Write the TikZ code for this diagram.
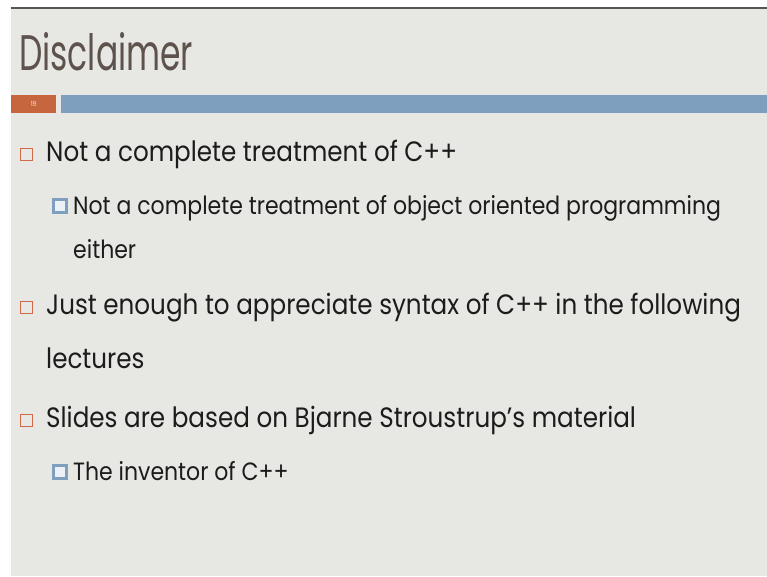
\documentclass[tikz,border=0pt]{standalone}
\usepackage{fontspec}
\setmainfont[FakeStretch=0.88]{Poppins}
\newfontfamily\titlefont[FakeStretch=0.66]{Poppins}
\usepackage{tikz}
\usetikzlibrary{positioning, calc}
\definecolor{slidebg}{HTML}{E7E8E4}
\definecolor{topline}{HTML}{555555}
\definecolor{titlegray}{HTML}{5E524D}
\definecolor{pagebox}{HTML}{C5663F}
\definecolor{barblue}{HTML}{7F9FBF}
\definecolor{bulletred}{HTML}{D0684A}
\definecolor{bodyblack}{HTML}{1C1C1C}
\tikzset{
  % first level bullet: empty square
  bulletone/.style={
    rectangle, draw=bulletred, line width=0.8pt, fill=slidebg,
    minimum size=12pt, inner sep=0pt, anchor=south west,
  },
  % second level bullet: blue square with light centre
  bullettwo/.style={
    rectangle, draw=barblue, line width=3pt, fill=white!85!barblue,
    minimum size=13pt, inner sep=0pt, anchor=south west,
  },
  % body text, first level
  bodytext/.style={
    font=\fontsize{28}{32}\selectfont, text=bodyblack,
    inner sep=0pt, anchor=base west,
  },
  % body text, second level
  subtext/.style={
    font=\fontsize{25}{29}\selectfont, text=bodyblack,
    inner sep=0pt, anchor=base west,
  },
  % slide title
  slidetitle/.style={
    font=\titlefont\fontsize{50}{60}\selectfont, text=titlegray,
    inner sep=0pt, anchor=base west,
  },
}
\begin{document}
\begin{tikzpicture}[x=1pt, y=-1pt]
  \useasboundingbox (0,0) rectangle (767,576);

  % slide background
  \fill[white] (0,0) rectangle (767,576);
  \fill[slidebg] (11,9) rectangle (767,576);
  \draw[topline, line width=2pt] (11,8) -- (767,8);

  % title and header bar
  \node[slidetitle] (title) at (19,70) {Disclaimer};
  \node[rectangle, fill=pagebox, minimum width=45pt, minimum height=18pt,
        inner sep=0pt, anchor=north west, text=white!80!pagebox,
        font=\fontsize{7}{8}\selectfont] (pagenum) at (11,95) {19};
  \node[rectangle, fill=barblue, minimum height=18pt, inner sep=0pt,
        anchor=north west, minimum width=706pt] (bar) at (61,95) {};

  % first bullet
  \node[bulletone] (bulA) at (20,161) {};
  \node[bodytext] (txtA) at (46,161) {Not a complete treatment of C++};
  \node[bullettwo] (subA) at (52,214) {};
  \node[subtext] (txtAa) at (73,214) {Not a complete treatment of object oriented programming};
  \node[subtext] (txtAb) at (73,258) {either};

  % second bullet
  \node[bulletone] (bulB) at (20,314) {};
  \node[bodytext] (txtB) at (46,314) {Just enough to appreciate syntax of C++ in the following};
  \node[bodytext] (txtBb) at (46,368) {lectures};

  % third bullet
  \node[bulletone] (bulC) at (20,427) {};
  \node[bodytext] (txtC) at (46,427) {Slides are based on Bjarne Stroustrup’s material};
  \node[bullettwo] (subC) at (52,480) {};
  \node[subtext] (txtCa) at (73,480) {The inventor of C++};

\end{tikzpicture}
\end{document}
